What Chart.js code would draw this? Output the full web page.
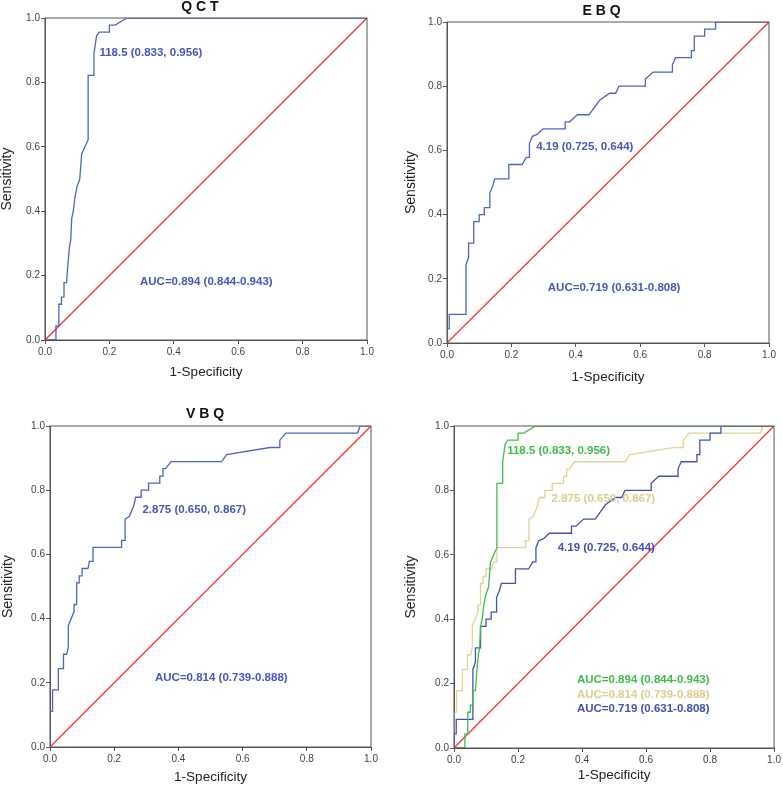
<!DOCTYPE html>
<html>
<head>
<meta charset="utf-8">
<title>ROC curves</title>
<script src="https://cdn.jsdelivr.net/npm/chart.js@4.4.1/dist/chart.umd.min.js"></script>
<style>
  html, body { margin: 0; padding: 0; background: #fff; }
  #wrap { position: relative; width: 783px; height: 787px; }
  #wrap canvas { position: absolute; left: 0; top: 0; }
</style>
</head>
<body>
<div id="wrap">
  <canvas id="c1" width="783" height="787"></canvas>
  <canvas id="c2" width="783" height="787"></canvas>
  <canvas id="c3" width="783" height="787"></canvas>
  <canvas id="c4" width="783" height="787"></canvas>
</div>
<script>
// ROC points: 1-specificity (fpr) and sensitivity (tpr)
const qctFpr = [0, 0.034, 0.034, 0.043, 0.043, 0.051, 0.051, 0.059, 0.059, 0.067,
  0.070, 0.076, 0.080, 0.083, 0.088, 0.093, 0.100, 0.108, 0.114, 0.124,
  0.134, 0.134, 0.150, 0.152, 0.160, 0.168, 0.200, 0.200, 0.218, 0.254, 1];
const qctTpr = [0, 0, 0.044, 0.044, 0.111, 0.111, 0.133, 0.133, 0.178, 0.178,
  0.222, 0.289, 0.311, 0.378, 0.400, 0.444, 0.478, 0.500, 0.578, 0.600,
  0.622, 0.822, 0.822, 0.889, 0.944, 0.956, 0.956, 0.978, 0.978, 1, 1];

const ebqFpr = [0, 0, 0.007, 0.007, 0.059, 0.059, 0.067, 0.067, 0.083, 0.083,
  0.100, 0.100, 0.116, 0.116, 0.133, 0.133, 0.142, 0.148, 0.192, 0.192,
  0.233, 0.246, 0.256, 0.256, 0.265, 0.280, 0.298, 0.367, 0.367, 0.381,
  0.405, 0.441, 0.474, 0.505, 0.524, 0.534, 0.616, 0.616, 0.640, 0.700,
  0.700, 0.710, 0.759, 0.759, 0.768, 0.768, 0.800, 0.800, 0.834, 0.834, 1];
const ebqTpr = [0, 0.044, 0.044, 0.089, 0.089, 0.244, 0.267, 0.311, 0.311, 0.378,
  0.378, 0.400, 0.400, 0.422, 0.422, 0.467, 0.489, 0.511, 0.511, 0.556,
  0.556, 0.578, 0.578, 0.622, 0.644, 0.650, 0.667, 0.667, 0.689, 0.689,
  0.711, 0.711, 0.756, 0.778, 0.778, 0.800, 0.800, 0.822, 0.844, 0.844,
  0.867, 0.889, 0.889, 0.911, 0.911, 0.956, 0.956, 0.978, 0.978, 1, 1];

const vbqFpr = [0, 0, 0.008, 0.008, 0.026, 0.026, 0.042, 0.042, 0.052, 0.057,
  0.057, 0.075, 0.075, 0.083, 0.083, 0.091, 0.091, 0.100, 0.100, 0.118,
  0.123, 0.134, 0.134, 0.223, 0.223, 0.234, 0.234, 0.247, 0.260, 0.267,
  0.284, 0.284, 0.307, 0.307, 0.342, 0.342, 0.350, 0.352, 0.360, 0.377,
  0.535, 0.550, 0.685, 0.716, 0.716, 0.735, 0.958, 0.966, 1];
const vbqTpr = [0, 0.111, 0.111, 0.178, 0.178, 0.244, 0.244, 0.289, 0.289, 0.311,
  0.378, 0.422, 0.444, 0.444, 0.511, 0.511, 0.533, 0.533, 0.556, 0.556,
  0.578, 0.578, 0.622, 0.622, 0.644, 0.644, 0.711, 0.718, 0.749, 0.778,
  0.778, 0.800, 0.800, 0.822, 0.822, 0.844, 0.844, 0.867, 0.867, 0.889,
  0.889, 0.911, 0.933, 0.933, 0.956, 0.978, 0.978, 1, 1];

const refFpr = [0, 1];
const refTpr = [0, 1];

const tickValues = [0, 0.2, 0.4, 0.6, 0.8, 1.0];

const cutLabels = { qct: '118.5 (0.833, 0.956)', ebq: '4.19 (0.725, 0.644)', vbq: '2.875 (0.650, 0.867)' };
const aucLabels = { qct: 'AUC=0.894 (0.844-0.943)', ebq: 'AUC=0.719 (0.631-0.808)', vbq: 'AUC=0.814 (0.739-0.888)' };

const BLUE = '#5064c2', BLUE_TXT = '#4658bb', BLUE4 = '#4152b4';
const GREEN = '#3fbd48', TAN = '#e0d394', TAN_TXT = '#dcce8c', RED = '#ff3030';
const FONT = '"Liberation Sans", Arial, sans-serif';

function pts(xs, ys) {
  return xs.map((v, i) => ({ x: v, y: ys[i] }));
}
const curves = {
  qct: pts(qctFpr, qctTpr),
  ebq: pts(ebqFpr, ebqTpr),
  vbq: pts(vbqFpr, vbqTpr),
  ref: pts(refFpr, refTpr)
};

// page layout of the four panels
const panels = [
  { id: 'c1', title: 'Q C T', titleX: 200, titleY: 7, area: { l: 45, t: 18, r: 367, b: 340 }, yTitleX: 7.5, xTitleY: 372,
    lines: [['qct', BLUE]],
    texts: [[cutLabels.qct, BLUE_TXT, 0.169, 0.893], [aucLabels.qct, BLUE_TXT, 0.295, 0.181]] },
  { id: 'c2', title: 'E B Q', titleX: 601.5, titleY: 10.7, area: { l: 447, t: 22, r: 769, b: 343 }, yTitleX: 411, xTitleY: 377,
    lines: [['ebq', BLUE]],
    texts: [[cutLabels.ebq, BLUE_TXT, 0.277, 0.611], [aucLabels.ebq, BLUE_TXT, 0.313, 0.173]] },
  { id: 'c3', title: 'V B Q', titleX: 205, titleY: 414, area: { l: 50, t: 426, r: 371, b: 747 }, yTitleX: 8, xTitleY: 777,
    lines: [['vbq', BLUE]],
    texts: [[cutLabels.vbq, BLUE_TXT, 0.288, 0.739], [aucLabels.vbq, BLUE_TXT, 0.327, 0.217]] },
  { id: 'c4', title: '', titleX: 0, titleY: 0, area: { l: 454, t: 426, r: 775, b: 748 }, yTitleX: 411, xTitleY: 775,
    lines: [['qct', GREEN], ['ebq', BLUE4], ['vbq', TAN]],
    texts: [[cutLabels.qct, GREEN, 0.166, 0.923], [cutLabels.vbq, TAN_TXT, 0.305, 0.773], [cutLabels.ebq, BLUE4, 0.324, 0.621],
            [aucLabels.qct, GREEN, 0.384, 0.213], [aucLabels.vbq, TAN_TXT, 0.384, 0.166], [aucLabels.ebq, BLUE4, 0.384, 0.123]] }
];

const decor = {
  id: 'decor',
  afterDatasetsDraw(chart, args, opts) {
    const { ctx, chartArea: a, scales: { x, y } } = chart;
    ctx.save();
    ctx.strokeStyle = '#555';
    ctx.lineWidth = 1;
    ctx.strokeRect(a.left, a.top, a.right - a.left, a.bottom - a.top);
    ctx.textBaseline = 'middle';
    ctx.textAlign = 'left';
    ctx.font = 'bold 11.5px ' + FONT;
    opts.texts.forEach(t => {
      ctx.fillStyle = t[1];
      ctx.fillText(t[0], x.getPixelForValue(t[2]), y.getPixelForValue(t[3]));
    });
    if (opts.title) {
      ctx.fillStyle = '#111';
      ctx.textAlign = 'center';
      ctx.font = 'bold 14px ' + FONT;
      ctx.fillText(opts.title, opts.titleX, opts.titleY);
    }
    ctx.restore();
  }
};

panels.forEach(p => {
  const padL = p.yTitleX - 7;
  const yWidth = p.area.l - padL;
  const scaleBottom = p.xTitleY + 6.75;
  const xHeight = scaleBottom - p.area.b;

  const datasets = p.lines.map(l => ({
    data: curves[l[0]], borderColor: l[1], borderWidth: 1.3,
    pointRadius: 0, tension: 0, fill: false
  }));
  datasets.push({ data: curves.ref, borderColor: RED, borderWidth: 1.3, pointRadius: 0, fill: false });

  const axisGrid = { drawOnChartArea: false, drawTicks: true, tickLength: 4, color: '#555' };
  const tickFont = { family: FONT, size: 10 };

  new Chart(document.getElementById(p.id), {
    type: 'line',
    data: { datasets },
    plugins: [decor],
    options: {
      responsive: false,
      animation: false,
      events: [],
      layout: { padding: { left: padL, top: p.area.t, right: 783 - p.area.r, bottom: 787 - scaleBottom } },
      plugins: {
        legend: { display: false },
        tooltip: { enabled: false },
        decor: { texts: p.texts, title: p.title, titleX: p.titleX, titleY: p.titleY }
      },
      scales: {
        x: {
          type: 'linear', min: 0, max: 1,
          afterFit: s => { s.height = xHeight; },
          afterBuildTicks: s => { s.ticks = tickValues.map(v => ({ value: v })); },
          ticks: { callback: v => v.toFixed(1), font: tickFont, color: '#444', padding: 2, maxRotation: 0 },
          grid: axisGrid,
          border: { color: '#555' },
          title: { display: true, text: '1-Specificity', color: '#222', padding: 0,
                   font: { family: FONT, size: 13.5, lineHeight: 1 } }
        },
        y: {
          type: 'linear', min: 0, max: 1,
          afterFit: s => { s.width = yWidth; },
          afterBuildTicks: s => { s.ticks = tickValues.map(v => ({ value: v })); },
          ticks: { callback: v => v.toFixed(1), font: tickFont, color: '#444', padding: 1 },
          grid: axisGrid,
          border: { color: '#555' },
          title: { display: true, text: 'Sensitivity', color: '#222', padding: 0,
                   font: { family: FONT, size: 14, lineHeight: 1 } }
        }
      }
    }
  });
});
</script>
</body>
</html>
